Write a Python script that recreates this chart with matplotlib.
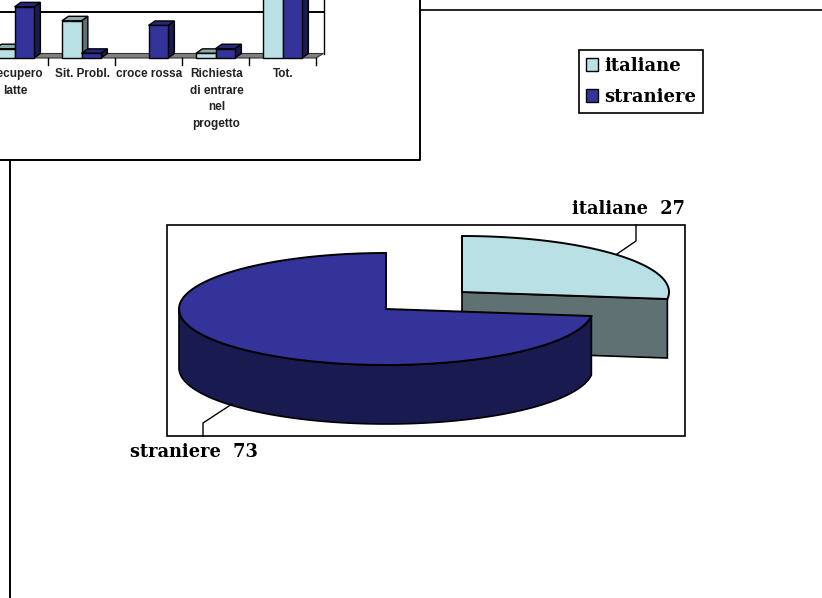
#!/usr/bin/env python3
"""Italiane / straniere: 3D-look bar chart (cropped at the page edge) and pie."""
import numpy as np
import matplotlib
matplotlib.use("Agg")
import matplotlib.pyplot as plt
from matplotlib.patches import Patch

# chart values
CATEGORIES = ["Recupero\nlatte", "Sit. Probl.", "croce rossa",
              "Richiesta\ndi entrare\nnel\nprogetto", "Tot."]
ITALIANE = [2, 8, 0, 1, 27]
STRANIERE = [11, 1, 7, 2, 73]
GRID_VALUES = [10]
PIE_LABELS = ["italiane", "straniere"]
PIE_VALUES = [27, 73]

# colours
IT_FRONT, IT_SIDE, IT_TOP = "#b9e0e4", "#5f7173", "#8fa8ab"
ST_FRONT, ST_SIDE, ST_TOP = "#333399", "#191a4f", "#26267a"
FLOOR = "#808080"
LABEL_FONT = dict(family="DejaVu Serif", fontweight="bold")

# page layout, in pixels
BAR_BASE = 58
BAR_UNIT = 4.65
CAT_START, CAT_STEP = 14.5, 67.0
BAR_W = 19.5
DEPTH_X, DEPTH_Y = 7.5, 4.5
PIE_RX, PIE_RY, PIE_H = 207, 56, 59

fig = plt.figure(figsize=(8.22, 5.98), dpi=100)
ax = fig.add_axes([0, 0, 1, 1])
ax.set_xlim(0, 822)
ax.set_ylim(598, 0)
ax.axis("off")


def bar3d(x, value, front, side, top):
    if value <= 0:
        return
    y = BAR_BASE - value * BAR_UNIT
    dx, dy = DEPTH_X * 0.85, DEPTH_Y
    style = dict(edgecolor="black", linewidth=1.0, zorder=4)
    ax.fill([x + BAR_W, x + BAR_W + dx, x + BAR_W + dx, x + BAR_W],
            [BAR_BASE, BAR_BASE - dy, y - dy, y], facecolor=side, **style)
    ax.fill([x, x + dx, x + BAR_W + dx, x + BAR_W],
            [y, y - dy, y - dy, y], facecolor=top, **style)
    ax.bar(x, -(BAR_BASE - y), BAR_W, bottom=BAR_BASE, align="edge",
           facecolor=front, **style)


def rim(cx, cy, frac_from, frac_to, n=160):
    # points on the projected circle, clockwise from the top
    t = 2 * np.pi * np.linspace(frac_from, frac_to, n)
    return cx + PIE_RX * np.sin(t), cy - PIE_RY * np.cos(t)


# bar chart: frame, wall, floor, gridline
right = CAT_START + CAT_STEP * (len(CATEGORIES) - 0.5)
ax.plot([0, 420, 420], [160, 160, 0], color="black", lw=1.4, zorder=2)
ax.plot([420, 822], [10, 10], color="black", lw=1.2, zorder=2)
ax.plot([10, 10], [160, 598], color="black", lw=1.4, zorder=2)
ax.fill([0, right, right + DEPTH_X, 0],
        [BAR_BASE, BAR_BASE, BAR_BASE - DEPTH_Y, BAR_BASE - DEPTH_Y],
        facecolor=FLOOR, edgecolor="#333333", linewidth=0.8, zorder=3)
ax.plot([right + DEPTH_X] * 2, [0, BAR_BASE - DEPTH_Y], color="black", lw=1.0, zorder=3)
for g in GRID_VALUES:
    ax.plot([0, right + DEPTH_X], [BAR_BASE - g * BAR_UNIT] * 2, color="black", lw=1.4, zorder=3)

for i, (cat, it, st) in enumerate(zip(CATEGORIES, ITALIANE, STRANIERE)):
    cx = CAT_START + CAT_STEP * i
    bar3d(cx - BAR_W, it, IT_FRONT, IT_SIDE, IT_TOP)
    bar3d(cx, st, ST_FRONT, ST_SIDE, ST_TOP)
    tick_x = cx + CAT_STEP / 2
    ax.plot([tick_x, tick_x], [BAR_BASE, BAR_BASE + 7], color="black", lw=1.0, zorder=3)
    ax.text(cx + 1, BAR_BASE + 10, cat, ha="center", va="top", family="Liberation Sans",
            fontweight="bold", fontsize=8.5, linespacing=1.5, color="#222222", zorder=5)

# pie: detached slice goes first, the big one overlaps it
ax.fill([167, 685, 685, 167], [225, 225, 436, 436], facecolor="white",
        edgecolor="black", linewidth=1.2, zorder=1)
total = sum(PIE_VALUES)
it_end = PIE_VALUES[0] / total

cx, cy = 462, 292
x_r, y_r = rim(cx, cy, 0, it_end)
ax.fill([cx, x_r[-1], x_r[-1], cx], [cy, y_r[-1], y_r[-1] + PIE_H, cy + PIE_H],
        facecolor=IT_SIDE, edgecolor="black", linewidth=1.2, zorder=2)
ax.fill(np.r_[cx, x_r], np.r_[cy, y_r], facecolor=IT_FRONT, edgecolor="black",
        linewidth=1.4, zorder=2)

cx, cy = 386, 309
x_r, y_r = rim(cx, cy, it_end, 0.75)
ax.fill(np.r_[x_r, x_r[::-1]], np.r_[y_r, y_r[::-1] + PIE_H], facecolor=ST_SIDE,
        edgecolor="black", linewidth=1.2, zorder=3)
x_r, y_r = rim(cx, cy, it_end, 1.0)
ax.fill(np.r_[cx, x_r], np.r_[cy, y_r], facecolor=ST_FRONT, edgecolor="black",
        linewidth=1.4, zorder=3)

# leaders and pie labels
ax.plot([636, 636, 617], [225, 241, 254], color="black", lw=1.0, zorder=4)
ax.plot([203, 203, 232], [436, 423, 404], color="black", lw=1.0, zorder=4)
ax.text(685, 209, f"{PIE_LABELS[0]}  {PIE_VALUES[0]}", ha="right", va="center",
        fontsize=12.8, **LABEL_FONT)
ax.text(130, 452, f"{PIE_LABELS[1]}  {PIE_VALUES[1]}", ha="left", va="center",
        fontsize=12.8, **LABEL_FONT)

handles = [Patch(facecolor=IT_FRONT, edgecolor="black", label=PIE_LABELS[0]),
           Patch(facecolor=ST_FRONT, edgecolor="black", label=PIE_LABELS[1])]
leg = ax.legend(handles=handles, loc="upper left", bbox_to_anchor=(579, 50),
                bbox_transform=ax.transData, borderaxespad=0, fancybox=False,
                framealpha=1, edgecolor="black", handlelength=0.65, handleheight=0.65,
                handletextpad=0.38, labelspacing=0.72, borderpad=0.38,
                prop=dict(family="DejaVu Serif", weight="bold", size=13))
leg.get_frame().set_linewidth(1.2)

fig.savefig("out.png", dpi=100)
